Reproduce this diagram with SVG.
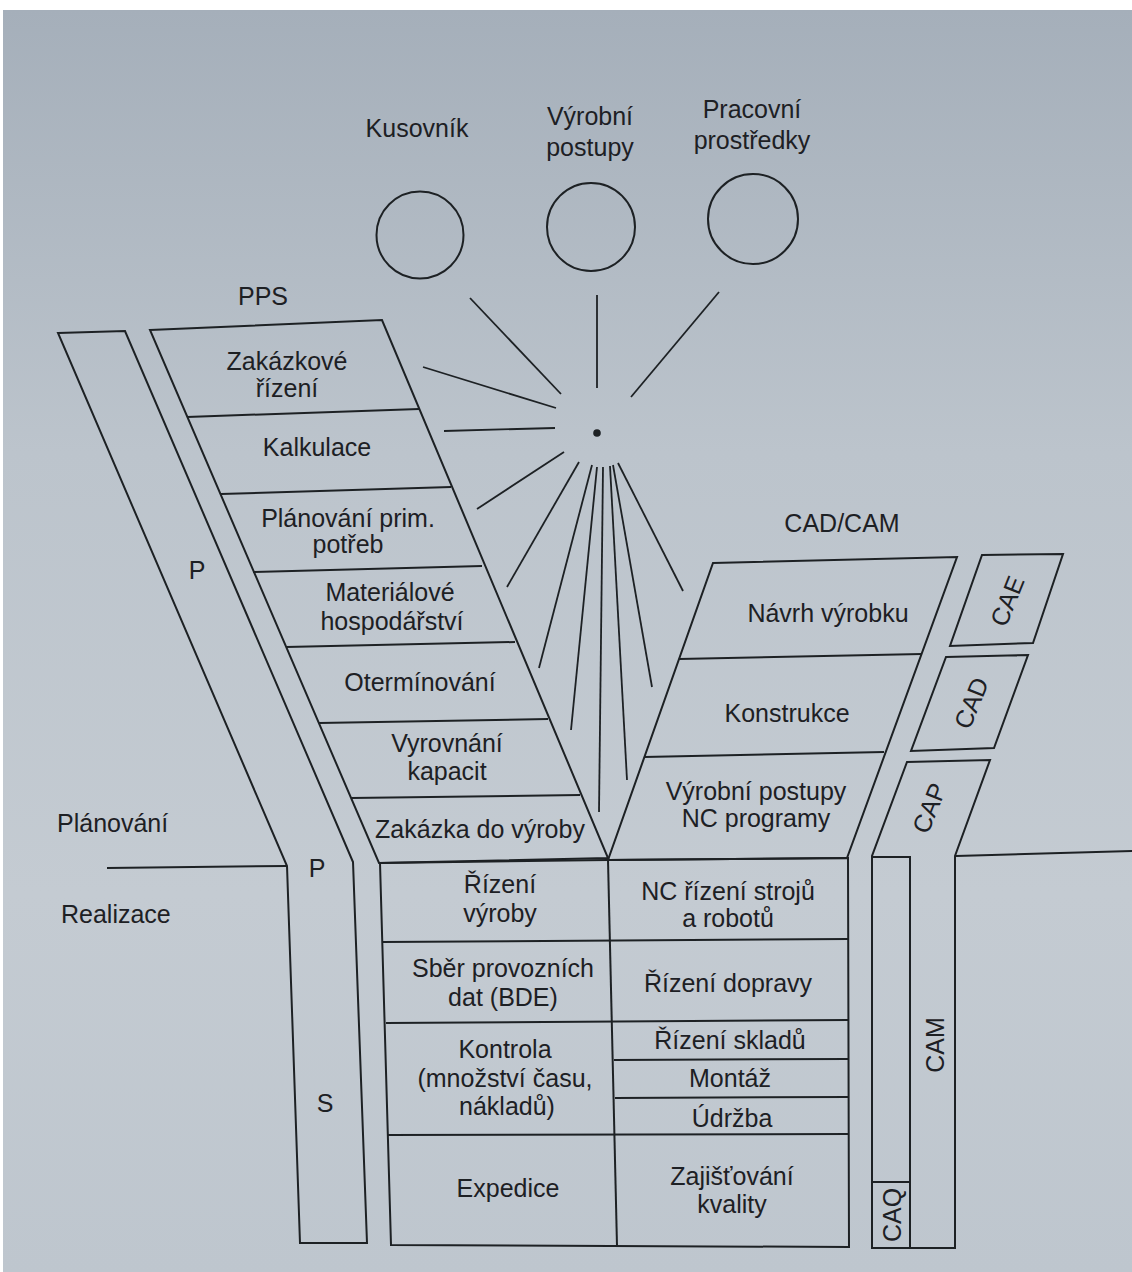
<svg xmlns="http://www.w3.org/2000/svg" width="1132" height="1272" viewBox="0 0 1132 1272">
<defs>
<linearGradient id="bg" x1="0" y1="0" x2="0" y2="1">
<stop offset="0" stop-color="#a5afba"/>
<stop offset="0.35" stop-color="#bcc4cc"/>
<stop offset="0.7" stop-color="#c4cbd2"/>
<stop offset="1" stop-color="#bec6ce"/>
</linearGradient>
</defs>
<style>
.s{fill:none;stroke:#1d2124;stroke-width:2;stroke-linejoin:miter}
.t{font-family:"Liberation Sans",Arial,sans-serif;font-size:25px;fill:#1d2024;text-anchor:middle}
.l{text-anchor:start}
.r{stroke:#1d2124;stroke-width:1.8;fill:none}
</style>
<rect x="0" y="0" width="1132" height="1272" fill="#ffffff"/>
<rect x="3" y="10" width="1129" height="1262" fill="url(#bg)"/>

<g id="resources">
<g id="kusovnik">
<circle class="s" cx="420" cy="235" r="43.5"/>
<text class="t" x="417" y="137">Kusovník</text>
</g>
<g id="vyrobni-postupy">
<circle class="s" cx="591" cy="227" r="44"/>
<text class="t" x="590" y="125">Výrobní</text>
<text class="t" x="590" y="156">postupy</text>
</g>
<g id="pracovni-prostredky">
<circle class="s" cx="753" cy="219" r="45"/>
<text class="t" x="752" y="118">Pracovní</text>
<text class="t" x="752" y="149">prostředky</text>
</g>
</g>

<g id="hub">
<circle cx="597" cy="433" r="3.8" fill="#1d2124"/>
</g>

<g id="connectors">
<line class="r" x1="470" y1="298" x2="561" y2="394"/>
<line class="r" x1="597" y1="295" x2="597" y2="388"/>
<line class="r" x1="719" y1="292" x2="631" y2="397"/>
<line class="r" x1="423" y1="367" x2="556" y2="408"/>
<line class="r" x1="444" y1="431" x2="555" y2="428"/>
<line class="r" x1="564" y1="452" x2="477" y2="509"/>
<line class="r" x1="579" y1="462" x2="507" y2="587"/>
<line class="r" x1="592" y1="465" x2="539" y2="668"/>
<line class="r" x1="597" y1="467" x2="571" y2="730"/>
<line class="r" x1="603" y1="467" x2="599" y2="812"/>
<line class="r" x1="610" y1="466" x2="627" y2="780"/>
<line class="r" x1="613" y1="465" x2="652" y2="687"/>
<line class="r" x1="618" y1="463" x2="683" y2="591"/>
</g>

<g id="phase-divider">
<line class="s" x1="107" y1="868" x2="287" y2="866"/>
<line class="s" x1="956" y1="856" x2="1132" y2="851"/>
<text class="t l" x="57" y="832">Plánování</text>
<text class="t l" x="61" y="923">Realizace</text>
</g>

<g id="pps-band">
<polygon class="s" points="58,333 125,331 353,862 367,1243 300,1243 287,866"/>
<text class="t" x="197" y="579">P</text>
<text class="t" x="317" y="877">P</text>
<text class="t" x="325" y="1112">S</text>
</g>

<g id="pps">
<text class="t" x="263" y="305">PPS</text>
<polygon class="s" points="150,330 382,320 608,858 379,863"/>
<line class="s" x1="187" y1="417" x2="419" y2="409"/>
<line class="s" x1="221" y1="494" x2="451" y2="487"/>
<line class="s" x1="253" y1="572" x2="482" y2="566"/>
<line class="s" x1="286" y1="647" x2="515" y2="642"/>
<line class="s" x1="319" y1="723" x2="548" y2="719"/>
<line class="s" x1="351" y1="798" x2="580" y2="795"/>
<text class="t" x="287" y="370">Zakázkové</text>
<text class="t" x="287" y="397">řízení</text>
<text class="t" x="317" y="456">Kalkulace</text>
<text class="t" x="348" y="527">Plánování prim.</text>
<text class="t" x="348" y="553">potřeb</text>
<text class="t" x="390" y="601">Materiálové</text>
<text class="t" x="392" y="630">hospodářství</text>
<text class="t" x="420" y="691">Otermínování</text>
<text class="t" x="447" y="752">Vyrovnání</text>
<text class="t" x="447" y="780">kapacit</text>
<text class="t" x="480" y="838">Zakázka do výroby</text>
</g>

<g id="cadcam">
<text class="t" x="842" y="532">CAD/CAM</text>
<polygon class="s" points="713,563 957,557 847,858 608,860"/>
<line class="s" x1="679" y1="659" x2="922" y2="654"/>
<line class="s" x1="644" y1="757" x2="884" y2="752"/>
<text class="t" x="828" y="622">Návrh výrobku</text>
<text class="t" x="787" y="722">Konstrukce</text>
<text class="t" x="756" y="800">Výrobní postupy</text>
<text class="t" x="756" y="827">NC programy</text>
</g>

<g id="realizace-table">
<polygon class="s" points="380,863 608,860 848,858 849,1247 391,1245"/>
<line class="s" x1="608" y1="860" x2="617" y2="1246"/>
<line class="s" x1="382" y1="942" x2="848" y2="939"/>
<line class="s" x1="386" y1="1023" x2="848" y2="1020"/>
<line class="s" x1="614" y1="1060" x2="848" y2="1059"/>
<line class="s" x1="615" y1="1098" x2="848" y2="1097"/>
<line class="s" x1="388" y1="1135" x2="849" y2="1134"/>
<text class="t" x="500" y="893">Řízení</text>
<text class="t" x="500" y="922">výroby</text>
<text class="t" x="728" y="900">NC řízení strojů</text>
<text class="t" x="728" y="927">a robotů</text>
<text class="t" x="503" y="977">Sběr provozních</text>
<text class="t" x="503" y="1006">dat (BDE)</text>
<text class="t" x="728" y="992">Řízení dopravy</text>
<text class="t" x="505" y="1058">Kontrola</text>
<text class="t" x="505" y="1087">(množství času,</text>
<text class="t" x="507" y="1115">nákladů)</text>
<text class="t" x="730" y="1049">Řízení skladů</text>
<text class="t" x="730" y="1087">Montáž</text>
<text class="t" x="732" y="1127">Údržba</text>
<text class="t" x="508" y="1197">Expedice</text>
<text class="t" x="732" y="1185">Zajišťování</text>
<text class="t" x="732" y="1213">kvality</text>
</g>

<g id="cae">
<polygon class="s" points="982,555 1063,554 1033,643 950,646"/>
<text class="t" transform="translate(1007,601) rotate(-68)" y="0" dy="0.36em">CAE</text>
</g>
<g id="cad">
<polygon class="s" points="946,657 1028,655 994,748 911,751"/>
<text class="t" transform="translate(971,703) rotate(-68)" y="0" dy="0.36em">CAD</text>
</g>
<g id="cap-cam">
<polygon class="s" points="907,762 990,760 955,856 955,1248 872,1248 872,856"/>
<text class="t" transform="translate(929,808) rotate(-68)" y="0" dy="0.36em">CAP</text>
<text class="t" transform="translate(935,1045) rotate(-90)" y="0" dy="0.36em">CAM</text>
</g>
<g id="caq">
<polyline class="s" points="872,857 910,857 910,1248"/>
<line class="s" x1="872" y1="1182" x2="910" y2="1182"/>
<text class="t" transform="translate(892,1215) rotate(-90)" y="0" dy="0.36em">CAQ</text>
</g>
</svg>
